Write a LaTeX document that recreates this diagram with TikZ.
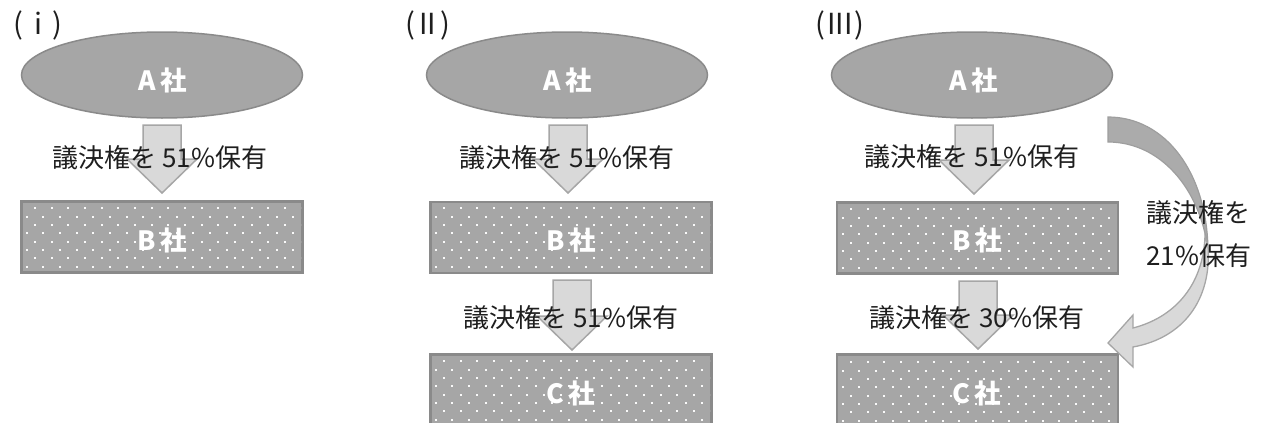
\documentclass[tikz,border=0pt]{standalone}
\usepackage{fontspec}
\setmainfont{Noto Sans CJK JP}
\usetikzlibrary{shapes.geometric}
\definecolor{shapegray}{HTML}{A6A6A6}
\definecolor{shapeborder}{HTML}{8A8A8A}
\definecolor{arrowfill}{HTML}{D9D9D9}
\definecolor{arrowborder}{HTML}{A6A6A6}
\definecolor{backfill}{HTML}{ABABAB}
\definecolor{txt}{HTML}{1E1E1E}
\tikzset{
  company/.style={ellipse, fill=shapegray, draw=shapeborder, line width=1.5pt,
    minimum width=281pt, minimum height=86pt, inner sep=0pt},
  boxnode/.style={draw=shapeborder, line width=2.2pt, fill=shapegray,
    minimum width=281pt, minimum height=71pt, inner sep=0pt},
  nametext/.style={text=white, inner sep=0pt, font=\bfseries\fontsize{26.5}{26}\selectfont},
  lbl/.style={text=txt, inner sep=0pt, font=\fontsize{26}{30}\selectfont},
  ttl/.style={text=txt, inner sep=0pt, font=\fontsize{29}{30}\selectfont},
  blockarrow/.style={fill=arrowfill, draw=arrowborder, line width=1.5pt, line join=miter},
  backarrow/.style={fill=backfill, draw=arrowborder!95!black, line width=1.2pt},
}
% dotted texture inside a rectangle: left x, top y, right x, bottom y
\newcommand{\dotgrid}[4]{%
  \begin{scope}
    \clip (#1+2,#2+2) rectangle (#3-2,#4-2);
    \foreach \r in {0,...,9}{%
      \pgfmathsetmacro\yy{#2+7.3+\r*8.333}%
      \pgfmathsetmacro\xo{#1+14-mod(\r,2)*8.333}%
      \foreach \c in {0,...,17}{%
        \fill[white!95!gray] ({\xo+\c*16.667-0.9},{\yy-0.9}) rectangle ++(1.8,1.8);
      }
    }
  \end{scope}}
% block down arrow: centre x, top y, tip y
\newcommand{\barrow}[3]{%
  \draw[blockarrow] (#1-19,#2) -- (#1+19,#2) -- (#1+19,#3-34) -- (#1+35,#3-34)
    -- (#1,#3) -- (#1-35,#3-34) -- (#1-19,#3-34) -- cycle;}
\begin{document}
\begin{tikzpicture}[x=1pt,y=-1pt]
\useasboundingbox (0,0) rectangle (1264,423);
\clip (0,0) rectangle (1264,423);

% ---------- panel titles
\node[ttl] (t1) at (38,25) {(\hspace{11pt}i\hspace{11pt})};
\node[ttl] (t2) at (428,25) {(\hspace{4pt}II\hspace{4pt})};
\node[ttl] (t3) at (840,25) {(\hspace{2pt}III\hspace{2pt})};

% ---------- panel (i)
\node[company] (A1) at (162,75) {};
\node[nametext] (A1t) at (163,80) {A\,社};
\barrow{162}{125}{193}
\node[boxnode] (B1) at (162,237) {};
\dotgrid{21}{201}{303}{273}
\node[nametext] (B1t) at (162,240) {B\,社};
\node[lbl] (L1) at (160,158) {議決権を 51\%保有};

% ---------- panel (ii)
\node[company] (A2) at (567,75) {};
\node[nametext] (A2t) at (568,80) {A\,社};
\barrow{568}{125}{193}
\node[boxnode] (B2) at (571,237.5) {};
\dotgrid{430}{201}{712}{274}
\node[nametext] (B2t) at (571,240) {B\,社};
\barrow{572}{280}{350}
\node[boxnode] (C2) at (571,390) {};
\dotgrid{430}{354}{712}{430}
\node[nametext] (C2t) at (571,393) {C\,社};
\node[lbl] (L2) at (567,158) {議決権を 51\%保有};
\node[lbl] (L3) at (571,318) {議決権を 51\%保有};

% ---------- panel (iii)
\node[company] (A3) at (972,75) {};
\node[nametext] (A3t) at (974,80) {A\,社};
\barrow{974}{125}{194}
\node[boxnode] (B3) at (977.5,238) {};
\dotgrid{837}{202}{1118}{274}
\node[nametext] (B3t) at (977,240) {B\,社};
\barrow{978}{281}{349}
\node[boxnode] (C3) at (977.5,390) {};
\dotgrid{837}{355}{1118}{430}
\node[nametext] (C3t) at (977,393) {C\,社};
\node[lbl] (L4) at (972,157) {議決権を 51\%保有};
\node[lbl] (L5) at (977,318) {議決権を 30\%保有};

% curved arrow A -> C
\coordinate (cs) at (1108,117);
\coordinate (ce) at (1108,343);
\draw[backarrow] (cs) .. controls (1165,117) and (1207,172) .. (1208,250)
  .. controls (1200,188) and (1160,142) .. (1108,142) -- cycle;
\draw[blockarrow, line width=1.3pt] (1205,236) .. controls (1203,288) and (1172,318) .. (1133,328)
  -- (1133,315) -- (ce) -- (1133,367) -- (1133,347)
  .. controls (1183,338) and (1212,300) .. (1208,246) -- cycle;

\node[lbl, anchor=west, align=left, font=\fontsize{26}{43}\selectfont] (L6) at (1146,234)
  {議決権を\\21\%保有};
\end{tikzpicture}
\end{document}
